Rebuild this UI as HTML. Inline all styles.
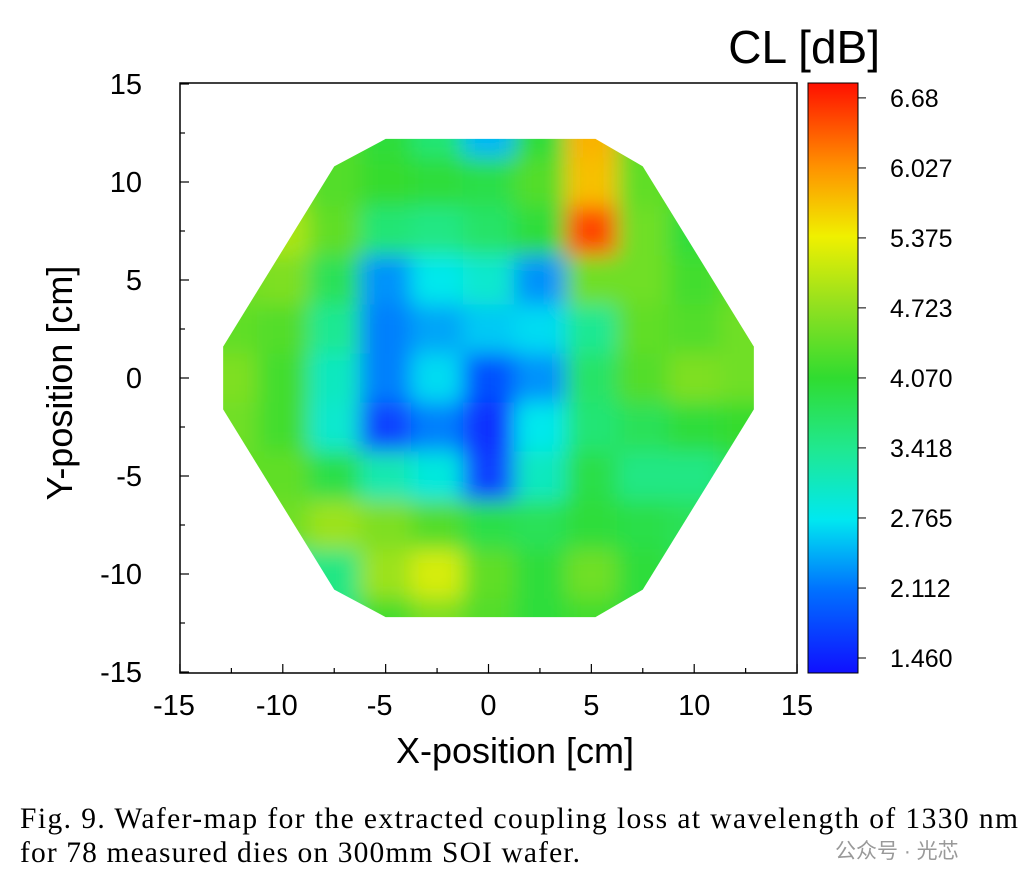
<!DOCTYPE html>
<html><head><meta charset="utf-8"><style>
body{margin:0;background:#fff;width:1032px;height:888px;overflow:hidden;font-family:"Liberation Sans",sans-serif}
</style></head><body>
<svg width="1032" height="888" id="fig">
<defs>
<filter id="bl" x="-10%" y="-10%" width="120%" height="120%"><feGaussianBlur stdDeviation="11"/></filter>
<clipPath id="oct"><polygon id="octpoly" points=""/></clipPath>
<linearGradient id="cg" x1="0" y1="1" x2="0" y2="0">
<stop offset="0" stop-color="#1010ff"/><stop offset="0.14" stop-color="#0070ff"/><stop offset="0.26" stop-color="#00e8f0"/><stop offset="0.38" stop-color="#20e890"/><stop offset="0.5" stop-color="#30dc30"/><stop offset="0.62" stop-color="#90e020"/><stop offset="0.74" stop-color="#f0f000"/><stop offset="0.86" stop-color="#ff9000"/><stop offset="1" stop-color="#ff1000"/>
</linearGradient>
</defs>
<g id="heat" clip-path="url(#oct)"><g id="cells" filter="url(#bl)"></g></g>
<rect x="180" y="83" width="617" height="590" fill="none" stroke="#000" stroke-width="1.5"/>
<g id="axes"></g>
<rect x="808" y="83" width="50" height="590" fill="url(#cg)" stroke="#000"/>
<text x="880" y="63" font-size="46" text-anchor="end">CL [dB]</text>
<text x="515" y="763" font-size="36" text-anchor="middle">X-position  [cm]</text>
<text transform="translate(72,383) rotate(-90)" font-size="36" text-anchor="middle">Y-position [cm]</text>
<text x="20" y="828" font-size="29.5" textLength="998" font-family="Liberation Serif,serif">Fig. 9.  Wafer-map for the extracted coupling loss at wavelength of 1330 nm</text>
<text x="20" y="862" font-size="29.5" textLength="560" font-family="Liberation Serif,serif">for 78 measured dies on 300mm SOI wafer.</text>
<text x="835" y="858" font-size="21" fill="#999" font-family="Liberation Sans,Noto Sans CJK SC,sans-serif">公众号 · 光芯</text>
</svg>
<script>
const gx=[-12.5,-10,-7.5,-5,-2.5,0,2.5,5,7.5,10,12.5];
const gy=[12.5,10,7.5,5,2.5,0,-2.5,-5,-7.5,-10,-12.5];
const v=[
[4.4,4.5,4.3,4.0,3.6,2.5,4.0,5.8,4.3,4.3,4.3],
[4.5,4.6,4.3,4.1,4.0,3.9,4.3,5.7,4.4,4.3,4.3],
[4.8,4.9,4.4,3.6,3.5,3.7,4.0,6.4,4.5,4.0,4.2],
[4.5,4.6,3.8,2.3,2.8,3.0,2.3,4.5,4.5,4.2,4.4],
[4.4,4.3,3.4,2.2,2.4,2.6,2.7,3.4,4.4,4.3,4.5],
[4.6,4.2,3.1,2.2,2.7,1.9,2.3,3.7,4.3,4.6,4.5],
[4.5,4.2,3.0,1.8,2.2,1.7,2.8,3.6,3.8,4.0,4.1],
[4.4,4.4,3.9,3.2,2.9,1.8,3.1,3.9,3.5,3.5,3.8],
[4.3,4.5,4.8,4.6,4.3,3.9,3.8,4.0,3.9,3.8,3.8],
[3.3,3.4,3.5,4.8,5.2,4.4,4.0,4.5,4.0,3.8,3.8],
[3.0,3.2,3.5,4.2,4.6,4.3,4.0,4.2,4.0,3.8,3.8]];
const xTicks=[-15,-10,-5,0,5,10,15];
const yTicks=[15,10,5,0,-5,-10,-15];
const cbTicks=["6.68","6.027","5.375","4.723","4.070","3.418","2.765","2.112","1.460"];
const cbVals=[6.68,6.027,5.375,4.723,4.070,3.418,2.765,2.112,1.460];
const octCm=[[-5,12.2],[5.2,12.2],[7.5,10.8],[12.9,1.6],[12.9,-1.6],[7.5,-10.8],[5.2,-12.2],[-5,-12.2],[-7.5,-10.8],[-12.9,-1.6],[-12.9,1.6],[-7.5,10.8]];
const X=x=>488.5+x*20.57, Y=y=>378-y*19.6;
const CB=t=>658-(t-1.46)*107.3;
const stops=[[1.46,[16,16,255]],[2.11,[0,112,255]],[2.77,[0,232,240]],[3.42,[32,232,144]],[4.07,[48,220,48]],[4.72,[144,224,32]],[5.375,[240,240,0]],[6.03,[255,144,0]],[6.68,[255,16,0]]];
function col(t){if(t<=stops[0][0])return stops[0][1];for(let i=1;i<stops.length;i++){if(t<=stops[i][0]){const a=stops[i-1],b=stops[i],f=(t-a[0])/(b[0]-a[0]);return a[1].map((c,k)=>Math.round(c+(b[1][k]-c)*f));}}return stops[stops.length-1][1];}
const NS="http://www.w3.org/2000/svg";
document.getElementById('octpoly').setAttribute('points',octCm.map(p=>X(p[0])+','+Y(p[1])).join(' '));
const cells=document.getElementById('cells');
const hw=2.5*20.57,hh=2.5*19.6;
gy.forEach((y,i)=>gx.forEach((x,j)=>{
 let x0=X(x)-hw/2,x1=X(x)+hw/2,y0=Y(y)-hh/2,y1=Y(y)+hh/2;
 if(j==0)x0-=40;if(j==gx.length-1)x1+=40;if(i==0)y0-=40;if(i==gy.length-1)y1+=40;
 const r=document.createElementNS(NS,'rect');
 r.setAttribute('x',x0);r.setAttribute('y',y0);r.setAttribute('width',x1-x0+0.5);r.setAttribute('height',y1-y0+0.5);
 r.setAttribute('fill','rgb('+col(v[i][j]).join(',')+')');
 
 
 cells.appendChild(r);
}));
const ax=document.getElementById('axes');
function add(tag,attrs,txt){const e=document.createElementNS(NS,tag);for(const k in attrs)e.setAttribute(k,attrs[k]);if(txt!=null)e.textContent=txt;ax.appendChild(e);return e;}
for(let t=-15;t<=15;t+=2.5){const big=t%5==0;
 add('line',{x1:X(t),x2:X(t),y1:673,y2:673-(big?9:5),stroke:'#000','stroke-width':1.2});
 add('line',{x1:180,x2:180+(big?9:5),y1:Y(t),y2:Y(t),stroke:'#000','stroke-width':1.2});}
xTicks.forEach(t=>{const e=add('text',{x:X(t)-(t<0?6:0),y:715,'font-size':29,'text-anchor':'middle'},String(t));
 
 });
yTicks.forEach(t=>{const e=add('text',{x:142,y:Y(t)+10,'font-size':29,'text-anchor':'end'},String(t));
 
 });
cbVals.forEach((t,i)=>{const y=CB(t);
 add('line',{x1:858,x2:866,y1:y,y2:y,stroke:'#000'});
 const e=add('text',{x:890,y:y+9,'font-size':25},cbTicks[i]);
 
 });
</script>
</body></html>
